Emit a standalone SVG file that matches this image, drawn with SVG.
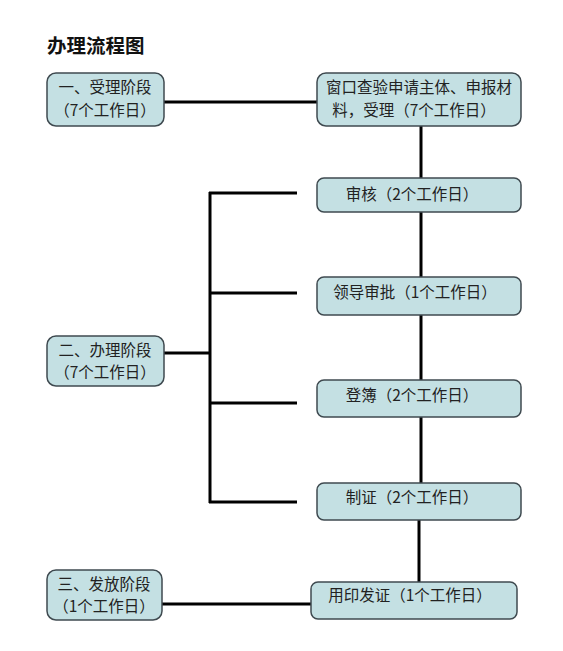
<svg xmlns="http://www.w3.org/2000/svg" width="563" height="651" viewBox="0 0 563 651">
<style>
.box{fill:#c4e0e3;stroke:#3f4a50;stroke-width:1.5}
.t{font-family:"Noto Sans CJK SC","DejaVu Sans",sans-serif;font-size:15.5px;fill:#222;text-anchor:middle}
.c{stroke:#000;stroke-width:3;fill:none}
</style>
<rect width="563" height="651" fill="#fff"/>
<text x="47" y="53" style="font-family:'Noto Sans CJK SC',serif;font-size:19.5px;font-weight:bold;fill:#111">办理流程图</text>
<g id="connectors">
<line class="c" x1="164" y1="102" x2="317" y2="102"/>
<line class="c" x1="421" y1="126" x2="421" y2="178"/>
<line class="c" x1="421" y1="212" x2="421" y2="277"/>
<line class="c" x1="421" y1="315" x2="421" y2="380"/>
<line class="c" x1="421" y1="417" x2="421" y2="483"/>
<line class="c" x1="419" y1="520" x2="419" y2="582"/>
<line class="c" x1="164" y1="353" x2="210" y2="353"/>
<line class="c" x1="210" y1="192" x2="210" y2="503"/>
<line class="c" x1="209" y1="193" x2="297" y2="193"/>
<line class="c" x1="210" y1="293" x2="297" y2="293"/>
<line class="c" x1="210" y1="403" x2="297" y2="403"/>
<line class="c" x1="209" y1="502" x2="297" y2="502"/>
<line class="c" x1="162" y1="604" x2="311" y2="604"/>
</g>
<g id="n1"><rect class="box" x="47" y="73" width="117" height="53" rx="9"/>
<text class="t" x="105" y="93">一、受理阶段</text><text class="t" x="105" y="116">（7个工作日）</text></g>
<g id="n2"><rect class="box" x="317" y="73" width="204" height="53" rx="9"/>
<text class="t" x="419" y="93">窗口查验申请主体、申报材</text><text class="t" x="414" y="116">料，受理（7个工作日）</text></g>
<g id="n3"><rect class="box" x="317" y="178" width="204" height="34" rx="7"/>
<text class="t" x="412" y="200">审核（2个工作日）</text></g>
<g id="n4"><rect class="box" x="317" y="277" width="204" height="38" rx="7"/>
<text class="t" x="415" y="298">领导审批（1个工作日）</text></g>
<g id="n5"><rect class="box" x="317" y="380" width="204" height="37" rx="7"/>
<text class="t" x="412" y="401">登簿（2个工作日）</text></g>
<g id="n6"><rect class="box" x="317" y="483" width="204" height="37" rx="7"/>
<text class="t" x="412" y="503">制证（2个工作日）</text></g>
<g id="n7"><rect class="box" x="47" y="336" width="117" height="50" rx="9"/>
<text class="t" x="105" y="356">二、办理阶段</text><text class="t" x="105" y="378">（7个工作日）</text></g>
<g id="n8"><rect class="box" x="47" y="570" width="115" height="50" rx="9"/>
<text class="t" x="104" y="590">三、发放阶段</text><text class="t" x="104" y="612">（1个工作日）</text></g>
<g id="n9"><rect class="box" x="311" y="582" width="206" height="37" rx="7"/>
<text class="t" x="410" y="601">用印发证（1个工作日）</text></g>
</svg>
